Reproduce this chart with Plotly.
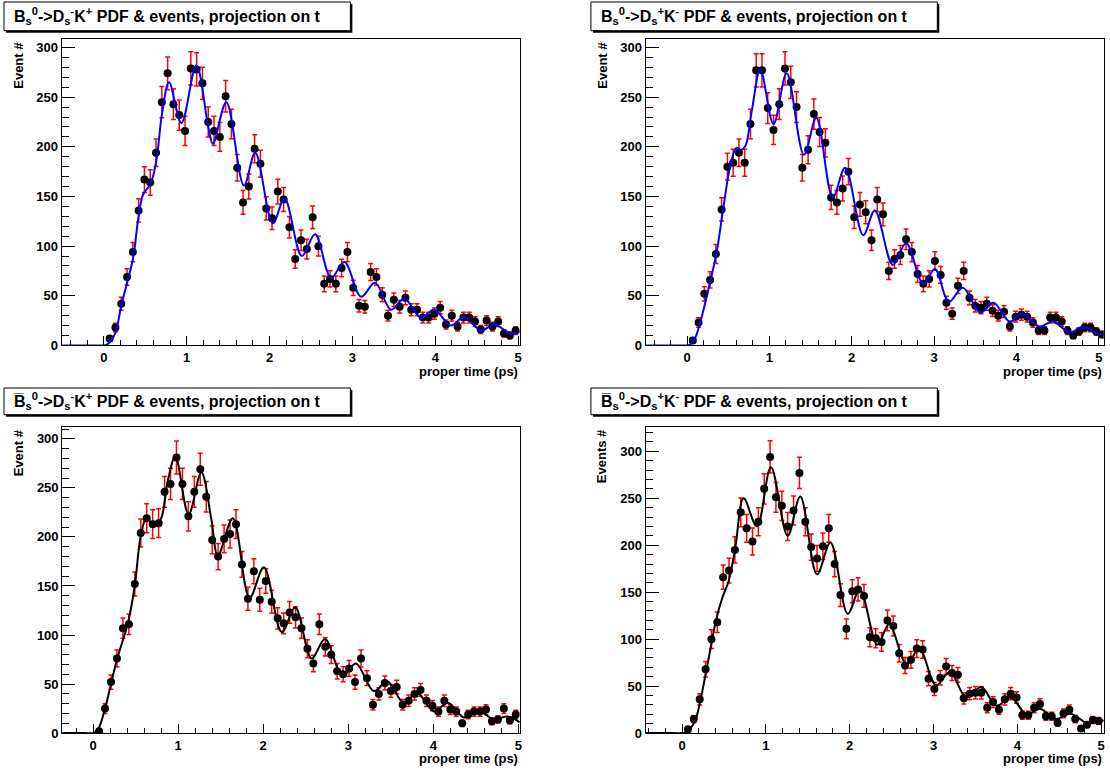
import math
import plotly.graph_objects as go

W, H = 1110, 781

# ---------------- data ----------------
BIN_T = [0.07, 0.14, 0.21, 0.28, 0.35, 0.42, 0.49, 0.56, 0.63, 0.70, 0.77, 0.84, 0.91, 0.98,
         1.05, 1.12, 1.19, 1.26, 1.33, 1.40, 1.47, 1.54, 1.61, 1.68, 1.75, 1.82, 1.89, 1.96,
         2.03, 2.10, 2.17, 2.24, 2.31, 2.38, 2.45, 2.52, 2.59, 2.66, 2.73, 2.80, 2.87, 2.94,
         3.01, 3.08, 3.15, 3.22, 3.29, 3.36, 3.43, 3.50, 3.57, 3.64, 3.71, 3.78, 3.85, 3.92,
         3.99, 4.06, 4.13, 4.20, 4.27, 4.34, 4.41, 4.48, 4.55, 4.62, 4.69, 4.76, 4.83, 4.90,
         4.97, 5.04]

TL_COUNTS = [7, 18, 42, 69, 94, 136, 167, 164, 194, 245, 274, 243, 232, 216, 279, 278, 264, 225,
             216, 210, 251, 223, 179, 144, 160, 198, 183, 138, 128, 155, 147, 119, 87, 106, 97,
             129, 100, 62, 67, 62, 78, 94, 58, 40, 39, 74, 69, 51, 30, 46, 39, 48, 36, 36, 28,
             28, 32, 38, 21, 30, 19, 28, 28, 24, 16, 25, 19, 24, 12, 10, 15]
TR_COUNTS = [5, 23, 52, 66, 92, 137, 180, 184, 194, 184, 223, 277, 277, 239, 217, 243, 279, 265,
             240, 179, 197, 233, 215, 204, 149, 144, 158, 175, 129, 142, 134, 106, 147, 132, 75,
             87, 91, 107, 94, 72, 62, 67, 85, 71, 43, 32, 60, 75, 48, 40, 38, 42, 35, 30, 34, 19,
             29, 31, 29, 23, 15, 15, 28, 28, 24, 15, 10, 14, 18, 18, 14, 11]
BL_COUNTS = [2, 25, 52, 76, 107, 111, 152, 204, 219, 213, 214, 246, 254, 281, 254, 221, 246, 269,
             241, 197, 180, 198, 203, 213, 172, 137, 165, 136, 155, 134, 117, 112, 123, 118, 107,
             86, 71, 111, 88, 80, 63, 60, 66, 52, 76, 56, 29, 40, 51, 43, 47, 29, 33, 40, 44, 33,
             28, 22, 33, 24, 22, 10, 19, 22, 22, 24, 12, 14, 25, 13, 19]
BR_COUNTS = [4, 15, 36, 68, 100, 118, 166, 173, 195, 235, 218, 204, 225, 260, 294, 251, 242, 220,
             237, 277, 225, 198, 186, 199, 218, 180, 147, 111, 151, 153, 146, 102, 101, 97, 120,
             114, 85, 72, 78, 90, 89, 58, 47, 59, 71, 64, 62, 37, 42, 43, 43, 27, 33, 25, 36, 42,
             38, 19, 19, 27, 31, 18, 18, 11, 21, 25, 15, 5, 9, 14, 13]

TL_CURVE_T = [-0.51, -0.2, 0.0, 0.032, 0.09, 0.145, 0.213, 0.353, 0.414, 0.474, 0.566, 0.635,
              0.703, 0.787, 0.936, 1.116, 1.265, 1.317, 1.478, 1.691, 1.827, 2.040, 2.181, 2.390,
              2.550, 2.743, 2.904, 3.104, 3.273, 3.466, 3.627, 3.827, 3.988, 4.189, 4.349, 4.551,
              4.711, 4.912, 5.02]
TL_CURVE_Y = [0, 0, 0, 0.5, 5, 14, 41, 88, 127, 152, 163, 187, 234, 265, 224, 282, 218, 203, 245,
              161, 194, 123, 148, 90, 112, 68, 84, 49, 63, 36, 47, 28, 36, 20, 29, 15, 21, 12, 14]

TR_CURVE_T = [-0.504, -0.2, 0.0, 0.03, 0.09, 0.16, 0.28, 0.36, 0.44, 0.53, 0.60, 0.66, 0.71, 0.79,
              0.89, 1.05, 1.21, 1.42, 1.57, 1.77, 1.92, 2.14, 2.28, 2.50, 2.66, 2.87, 3.01, 3.18,
              3.35, 3.56, 3.72, 3.92, 4.07, 4.28, 4.44, 4.65, 4.81, 5.0, 5.06]
TR_CURVE_Y = [0, 0, 0, 0.5, 6, 23, 64, 94, 138, 183, 199, 197, 201, 238, 278, 223, 274, 192, 229,
              149, 179, 111, 136, 81, 103, 62, 77, 44, 58, 33, 43, 24, 32, 19, 24, 13, 19, 11, 12]

BL_CURVE_T = [-0.364, -0.1, 0.0, 0.02, 0.07, 0.137, 0.274, 0.411, 0.489, 0.56, 0.627, 0.724, 0.80,
              0.88, 0.967, 1.123, 1.272, 1.39, 1.467, 1.643, 1.84, 2.008, 2.218, 2.376, 2.57,
              2.727, 2.934, 3.09, 3.30, 3.46, 3.65, 3.81, 4.01, 4.17, 4.36, 4.53, 4.71, 4.87,
              5.017]
BL_CURVE_Y = [0, 0, 0, 0.5, 6, 24, 73, 113, 150, 201, 219, 211, 219, 258, 282, 223, 266, 218, 181,
              219, 138, 169, 103, 128, 76, 96, 58, 71, 43, 53, 31, 41, 22, 31, 16, 23, 14, 17, 11]

BR_CURVE_T = [-0.436, -0.1, 0.0, 0.04, 0.10, 0.16, 0.29, 0.40, 0.476, 0.556, 0.636, 0.734, 0.893,
              1.06, 1.26, 1.41, 1.61, 1.77, 1.976, 2.12, 2.33, 2.47, 2.68, 2.83, 3.03, 3.195,
              3.39, 3.57, 3.75, 3.92, 4.11, 4.27, 4.46, 4.63, 4.83, 4.94, 5.03]
BR_CURVE_Y = [0, 0, 0, 0.5, 5, 14, 67, 118, 143, 162, 198, 250, 220, 283, 210, 252, 169, 203, 127,
              153, 94, 116, 73, 90, 51, 65, 38, 49, 29, 38, 20, 26, 15, 21, 11, 15, 13]

TITLES = [
    "B<sub>s</sub><sup>0</sup>->D<sub>s</sub><sup>-</sup>K<sup>+</sup> PDF & events, projection on t",
    "B<sub>s</sub><sup>0</sup>->D<sub>s</sub><sup>+</sup>K<sup>-</sup> PDF & events, projection on t",
    "B\u0305<sub>s</sub><sup>0</sup>->D<sub>s</sub><sup>-</sup>K<sup>+</sup> PDF & events, projection on t",
    "B\u0305<sub>s</sub><sup>0</sup>->D<sub>s</sub><sup>+</sup>K<sup>-</sup> PDF & events, projection on t",
]
Y_TITLES = ["Event #", "Event #", "Event #", "Events #"]
X_TITLE = "proper time (ps)"

X_RANGES = [[-0.51, 5.02], [-0.504, 5.06], [-0.364, 5.017], [-0.436, 5.03]]
Y_RANGES = [[0, 309], [0, 309], [0, 312.5], [0, 326.3]]

# ---------------- layout geometry (pixels) ----------------
FRAMES = [(61.7, 520.7, 39, 349), (646.7, 1105.7, 39, 349),
          (62.3, 520.7, 431, 740.7), (646.7, 1105.7, 431, 740.7)]
BOXES = [(4, 351, 2, 31), (592, 939, 2, 31), (4, 351, 392, 419), (592, 939, 392, 419)]
CURVE_COLORS = ["#0000ff", "#0000ff", "#000000", "#000000"]

panels = [
    (TL_COUNTS, TL_CURVE_T, TL_CURVE_Y),
    (TR_COUNTS, TR_CURVE_T, TR_CURVE_Y),
    (BL_COUNTS, BL_CURVE_T, BL_CURVE_Y),
    (BR_COUNTS, BR_CURVE_T, BR_CURVE_Y),
]

FONT = "Liberation Sans, Arial, Helvetica, sans-serif"

def fx(px):
    return px / W

def fy(py):
    return 1 - py / H

fig = go.Figure()
layout = dict(width=W, height=H, margin=dict(l=0, r=0, t=0, b=0),
              paper_bgcolor="white", plot_bgcolor="white", showlegend=False)
annotations = []
shapes = []

for i, (counts, ct, cyv) in enumerate(panels):
    k = i + 1
    xa, ya = f"x{k}", f"y{k}"
    n = len(counts)
    fig.add_trace(go.Scatter(
        x=BIN_T[:n], y=counts, mode="markers", xaxis=xa, yaxis=ya,
        marker=dict(color="black", size=8),
        error_y=dict(type="data", array=[math.sqrt(c) for c in counts],
                     color="red", thickness=1.5, width=2.5),
        hoverinfo="skip"))
    fig.add_trace(go.Scatter(
        x=ct, y=cyv, mode="lines", xaxis=xa, yaxis=ya,
        line=dict(color=CURVE_COLORS[i], width=2, shape="spline", smoothing=1.0),
        hoverinfo="skip"))

    x0, x1, y0, y1 = FRAMES[i]
    tickfont = dict(family=FONT, size=13, color="black", weight="bold")
    layout[f"xaxis{k}"] = dict(
        domain=[fx(x0), fx(x1)], range=X_RANGES[i], anchor=ya,
        showline=True, linecolor="black", linewidth=1, mirror=True,
        ticks="inside", ticklen=9, tickwidth=1, tickcolor="black",
        tick0=0, dtick=1, showgrid=False, zeroline=False, tickfont=tickfont,
        minor=dict(ticks="inside", ticklen=5, tick0=0, dtick=0.2, tickcolor="black",
                   showgrid=False))
    layout[f"yaxis{k}"] = dict(
        domain=[fy(y1), fy(y0)], range=Y_RANGES[i], anchor=xa,
        showline=True, linecolor="black", linewidth=1, mirror=True,
        ticks="inside", ticklen=13, tickwidth=1, tickcolor="black",
        tick0=0, dtick=50, showgrid=False, zeroline=False, tickfont=tickfont,
        minor=dict(ticks="inside", ticklen=7, tick0=0, dtick=10, tickcolor="black",
                   showgrid=False))

    # title box with shadow
    bx0, bx1, by0, by1 = BOXES[i]
    shapes.append(dict(type="rect", xref="paper", yref="paper",
                       x0=fx(bx0 + 2), x1=fx(bx1 + 2), y0=fy(by1 + 2), y1=fy(by0 + 2),
                       fillcolor="black", line=dict(width=0), layer="above"))
    shapes.append(dict(type="rect", xref="paper", yref="paper",
                       x0=fx(bx0), x1=fx(bx1), y0=fy(by1), y1=fy(by0),
                       fillcolor="white", line=dict(color="black", width=1), layer="above"))
    annotations.append(dict(
        text=TITLES[i], xref="paper", yref="paper",
        x=fx(bx0 + 8), y=fy((by0 + by1) / 2), xanchor="left", yanchor="middle",
        showarrow=False, font=dict(family=FONT, size=16, color="black", weight="bold")))

    # axis titles
    annotations.append(dict(
        text=Y_TITLES[i], xref="paper", yref="paper", textangle=-90,
        x=fx(x0 - 44), y=fy(y0 + 1), xanchor="center", yanchor="top",
        showarrow=False, font=dict(family=FONT, size=13, color="black", weight="bold")))
    annotations.append(dict(
        text=X_TITLE, xref="paper", yref="paper",
        x=fx(x1), y=fy(y1 + 26), xanchor="right", yanchor="middle",
        showarrow=False, font=dict(family=FONT, size=13, color="black", weight="bold")))

layout["annotations"] = annotations
layout["shapes"] = shapes
fig.update_layout(**layout)
fig.write_html("out.html")
